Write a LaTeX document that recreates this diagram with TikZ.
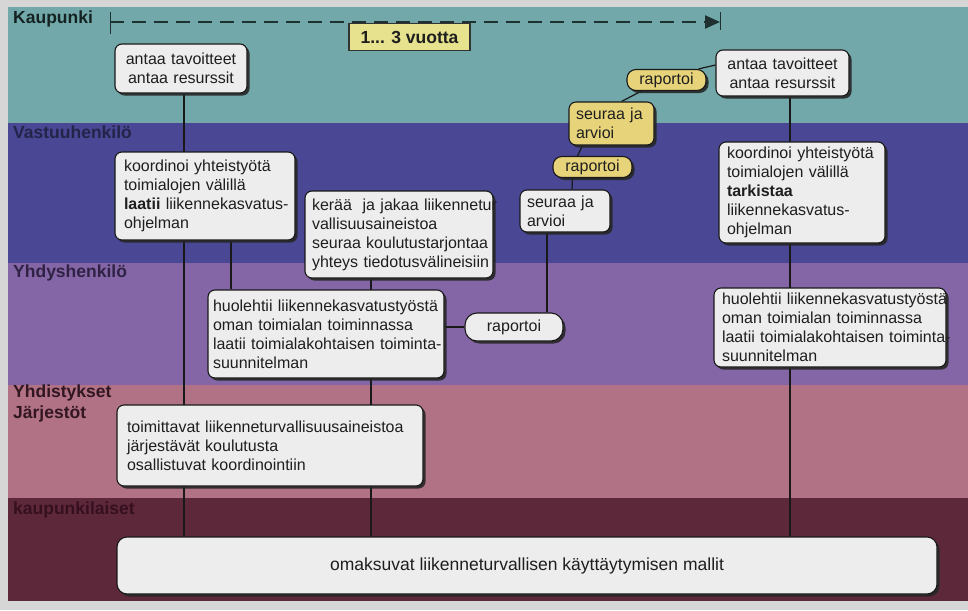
\documentclass[tikz,border=0pt]{standalone}
\usepackage{fontspec}
\setmainfont{Liberation Sans}
\usetikzlibrary{shadows,arrows.meta}
\definecolor{margin}{HTML}{D6D6D6}
\definecolor{bandA}{HTML}{72A8A9}
\definecolor{bandB}{HTML}{4A4794}
\definecolor{bandC}{HTML}{8466A6}
\definecolor{bandD}{HTML}{B07284}
\definecolor{bandE}{HTML}{5E283B}
\definecolor{boxfill}{HTML}{EEEDED}
\definecolor{ylw}{HTML}{E7D47A}
\definecolor{ylw2}{HTML}{E6E28E}
\definecolor{txt}{HTML}{1E1E1E}
\definecolor{labA}{HTML}{142222}
\definecolor{labB}{HTML}{24244A}
\definecolor{labC}{HTML}{302244}
\definecolor{labD}{HTML}{321622}
\definecolor{labE}{HTML}{36101E}
\definecolor{dashc}{HTML}{1E3030}
\pgfdeclarelayer{back}
\pgfdeclarelayer{lines}
\pgfsetlayers{back,lines,main}
\begin{document}
\begin{tikzpicture}[x=1pt,y=-1pt,
  bx/.style={draw=black!90, fill=boxfill, line width=1.1pt, rounded corners=7pt,
     drop shadow={shadow xshift=2.5pt,shadow yshift=-2.5pt,fill=black!85,opacity=.9},
     text=txt, font=\fontsize{16}{19}\selectfont, inner xsep=6pt, inner ysep=2pt, align=left},
  ybx/.style={bx, fill=ylw},
  conn/.style={draw=black!90, line width=1.2pt},
  lab/.style={anchor=west, font=\fontsize{17.5}{20}\selectfont\bfseries, inner sep=0pt}]
\useasboundingbox (0,0) rectangle (968,610);
\begin{pgfonlayer}{back}
\fill[margin] (0,0) rectangle (968,610);
\fill[bandA] (8,7) rectangle (968,123);
\fill[bandB] (8,123) rectangle (968,263);
\fill[bandC] (8,263) rectangle (968,385);
\fill[bandD] (8,385) rectangle (968,498);
\fill[bandE] (8,498) rectangle (968,601);
\end{pgfonlayer}

% band labels
\node[lab, text=labA] (lK) at (13,19) {Kaupunki};
\node[lab, text=labB] (lV) at (13,132) {Vastuuhenkilö};
\node[lab, text=labC] (lY) at (13,273) {Yhdyshenkilö};
\node[lab, text=labD] (lYh) at (13,393) {Yhdistykset};
\node[lab, text=labD] (lJ) at (13,414) {Järjestöt};
\node[lab, text=labE] (lk) at (13,510) {kaupunkilaiset};

% time line
\coordinate (t0) at (110,22);
\coordinate (t1) at (720,22);
\draw[dashc, line width=1pt] ([yshift=10pt]t0) -- ([yshift=-12pt]t0);
\draw[dashc, line width=1pt] ([yshift=10pt]t1) -- ([yshift=-8pt]t1);
\draw[dashc, line width=2.2pt, dash pattern=on 14pt off 8pt, -{Triangle[length=15pt,width=13pt]}] (t0) -- (t1);
\node[draw=black!80, fill=ylw2, line width=1.3pt, font=\fontsize{17.5}{20}\selectfont\bfseries, text=txt,
      minimum width=121pt, minimum height=27pt, inner sep=0pt] (vuotta) at (409.5,37) {1... 3 vuotta};

% boxes
\node[bx, align=center, text width=120pt, minimum height=49pt] (antaaA) at (181,68.5) {antaa tavoitteet\\antaa resurssit};
\node[bx, align=center, text width=121pt, minimum height=46pt] (antaaB) at (782.5,73) {antaa tavoitteet\\antaa resurssit};
\node[bx, inner xsep=9pt, text width=162pt, minimum height=88pt] (koordA) at (205,196)
  {\mbox{koordinoi yhteistyötä}\\\mbox{toimialojen välillä}\\\mbox{\textbf{laatii} liikennekasvatus-}\\ohjelman};
\node[bx, inner xsep=7pt, text width=174pt, minimum height=87pt] (keraa) at (399,234.5)
  {\mbox{kerää\ \ ja jakaa liikennetur}\\vallisuusaineistoa\\\mbox{seuraa koulutustarjontaa}\\\mbox{yhteys tiedotusvälineisiin}};
\node[bx, inner xsep=7pt, text width=76pt, minimum height=42pt] (seuraaW) at (565,211) {\mbox{seuraa ja}\\arvioi};
\node[bx, inner xsep=8pt, text width=150pt, minimum height=101pt] (koordB) at (802,192.5)
  {\mbox{koordinoi yhteistyötä}\\\mbox{toimialojen välillä}\\\textbf{tarkistaa}\\liikennekasvatus-\\ohjelman};
\node[bx, inner xsep=5pt, text width=226pt, minimum height=88pt] (huolA) at (326,334)
  {\mbox{huolehtii liikennekasvatustyöstä}\\\mbox{oman toimialan toiminnassa}\\\mbox{laatii toimialakohtaisen toiminta-}\\suunnitelman};
\node[bx, rounded corners=12pt, align=center, minimum width=98pt, minimum height=28pt] (raportW) at (514,327) {raportoi};
\node[bx, inner xsep=8pt, text width=216pt, minimum height=79pt] (huolB) at (830,327.5)
  {\mbox{huolehtii liikennekasvatustyöstä}\\\mbox{oman toimialan toiminnassa}\\\mbox{laatii toimialakohtaisen toiminta-}\\suunnitelman};
\node[bx, inner xsep=10pt, text width=286pt, minimum height=81pt] (toim) at (270,445.5)
  {\mbox{toimittavat liikenneturvallisuusaineistoa}\\\mbox{järjestävät koulutusta}\\\mbox{osallistuvat koordinointiin}};
\node[bx, rounded corners=10pt, align=center, minimum width=820pt, minimum height=57pt,
      font=\fontsize{17.5}{20}\selectfont] (omak) at (527,565.5)
  {omaksuvat liikenneturvallisen käyttäytymisen mallit};

% yellow chain
\node[ybx, rounded corners=9pt, align=center, inner sep=0pt, minimum width=79pt, minimum height=21pt] (raportY1) at (666.5,80) {raportoi};
\node[ybx, inner xsep=7pt, text width=71pt, minimum height=43pt] (seuraaY) at (611.5,123.5) {\mbox{seuraa ja}\\arvioi};
\node[ybx, rounded corners=9pt, align=center, inner sep=0pt, minimum width=79pt, minimum height=21pt] (raportY2) at (592.5,167) {raportoi};

% connectors
\begin{pgfonlayer}{lines}
\coordinate (xa) at (184,0);
\coordinate (xb) at (231,0);
\coordinate (xc) at (371,0);
\coordinate (xd) at (547,0);
\coordinate (xe) at (790,0);
\draw[conn] (antaaA.south -| xa) -- (omak.north -| xa);
\draw[conn] (koordA.south -| xb) -- (huolA.north -| xb);
\draw[conn] (keraa.south -| xc) -- (omak.north -| xc);
\draw[conn] (seuraaW.south -| xd) -- (raportW.north -| xd);
\draw[conn] (antaaB.south -| xe) -- (omak.north -| xe);
\draw[conn] (huolA.east |- raportW) -- (raportW.west);
\draw[conn] ([xshift=-8pt]raportY1.north east) -- ([yshift=8pt]antaaB.west);
\draw[conn] ([xshift=-25pt]raportY1.south) -- ([xshift=10pt]seuraaY.north);
\draw[conn] ([xshift=-29pt]seuraaY.south) -- ([xshift=-15pt]raportY2.north);
\draw[conn] ([xshift=-20pt]raportY2.south) -- ([xshift=7pt]seuraaW.north);
\end{pgfonlayer}
\end{tikzpicture}
\end{document}
